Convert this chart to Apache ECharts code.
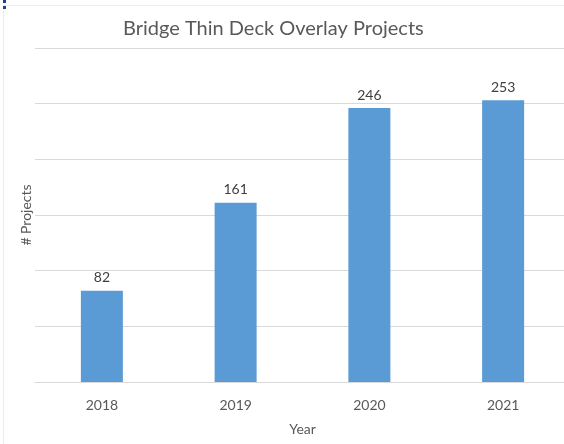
<!DOCTYPE html>
<html>
<head>
<meta charset="utf-8">
<script src="https://cdn.jsdelivr.net/npm/echarts@6/dist/echarts.min.js"></script>
<style>
    html, body { margin: 0; padding: 0; background: #fff; }
    #main { width: 564px; height: 444px; }
</style>
</head>
<body>
<div id="main"></div>
<script>
    var years = ['2018', '2019', '2020', '2021'];
    var projects = [82, 161, 246, 253];

    var myChart = echarts.init(document.getElementById('main'));
    myChart.setOption({
        animation: false,
        textStyle: { fontFamily: 'Lato' },
        // faint slide frame seen at the top-left of the screenshot
        graphic: [
            { type: 'rect', shape: { x: 3.5, y: 5.5, width: 600, height: 500 }, style: { fill: null, stroke: '#ececf0', lineWidth: 1 } },
            { type: 'rect', shape: { x: 3, y: 0, width: 3, height: 3 }, style: { fill: '#1f3f8f' } },
            { type: 'rect', shape: { x: 3, y: 6, width: 3, height: 3 }, style: { fill: '#1f3f8f' } }
        ],
        title: {
            text: 'Bridge Thin Deck Overlay Projects',
            left: 118,
            top: 14,
            textStyle: { fontSize: 20, fontWeight: 'normal', color: '#595959', fontFamily: 'Lato' }
        },
        grid: {
            left: 35,
            width: 535,
            top: 48,
            bottom: 62,
            outerBoundsMode: 'none'
        },
        xAxis: {
            type: 'category',
            data: years,
            name: 'Year',
            nameLocation: 'middle',
            nameGap: 40,
            nameTextStyle: { fontSize: 14, color: '#595959' },
            axisLine: { lineStyle: { color: '#d9d9d9' } },
            axisTick: { show: false },
            axisLabel: { fontSize: 14, color: '#595959', margin: 16 }
        },
        yAxis: {
            type: 'value',
            min: 0,
            max: 300,
            interval: 50,
            name: '# Projects',
            nameLocation: 'middle',
            nameGap: 2,
            nameTextStyle: { fontSize: 14, color: '#595959' },
            axisLabel: { show: false },
            axisLine: { show: false },
            axisTick: { show: false },
            splitLine: { lineStyle: { color: '#d9d9d9' } }
        },
        series: [{
            name: '# Projects',
            type: 'bar',
            data: projects,
            barWidth: 42,
            itemStyle: { color: '#5b9bd5' },
            label: {
                show: true,
                position: 'top',
                distance: 6,
                fontSize: 14,
                color: '#404040'
            }
        }]
    });
</script>
</body>
</html>
